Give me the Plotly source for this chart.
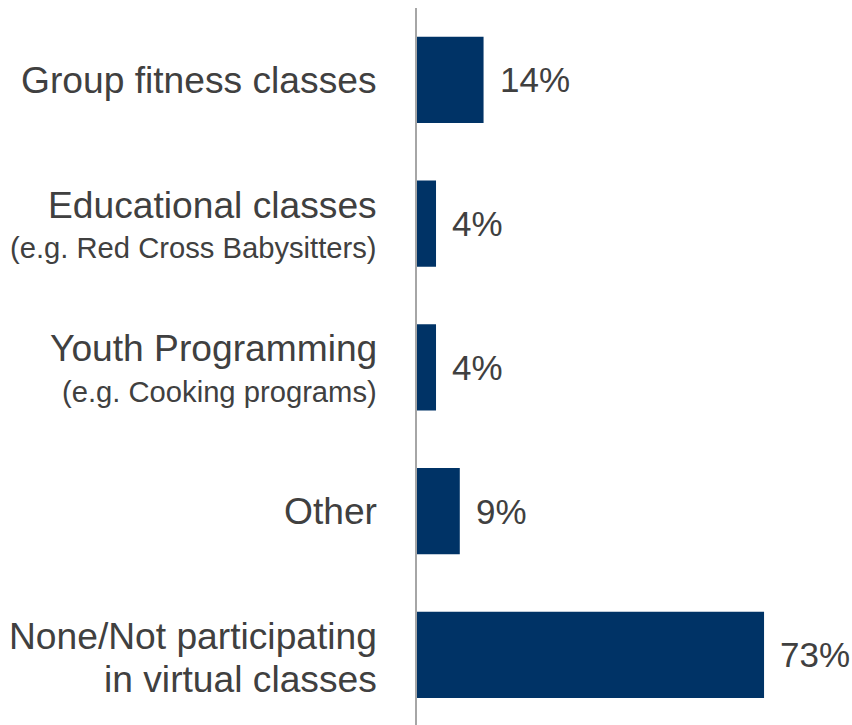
import plotly.graph_objects as go

# Survey: participation in virtual classes (share of respondents, %)
categories = [
    "Group fitness classes",
    "Educational classes",
    "Youth Programming",
    "Other",
    "None/Not participating<br>in virtual classes",
]
notes = [
    "",
    "(e.g. Red Cross Babysitters)",
    "(e.g. Cooking programs)",
    "",
    "",
]
values = [14, 4, 4, 9, 73]
value_labels = [f"{v}%" for v in values]

BAR_COLOR = "#003366"
TEXT_COLOR = "#404040"
FONT = "Liberation Sans, Arial, sans-serif"
BIG = 37.2
SMALL = 29.2

fig = go.Figure(
    go.Bar(
        x=values,
        y=categories,
        orientation="h",
        width=0.6,
        marker=dict(color=BAR_COLOR, line=dict(width=0)),
        hoverinfo="skip",
    )
)

annotations = []
# value labels just right of each bar end
for cat, v, lab in zip(categories, values, value_labels):
    annotations.append(dict(
        x=v, y=cat, xref="x", yref="y", text=lab, showarrow=False,
        xanchor="left", yanchor="middle", xshift=14,
        font=dict(family=FONT, size=35, color=TEXT_COLOR),
    ))

# category labels, right-aligned to the left of the axis line
for cat, note in zip(categories, notes):
    lines = [(t, BIG) for t in cat.split("<br>")]
    if note:
        lines.append((note, SMALL))
    if len(lines) == 1:
        shifts = [0]
    else:
        shifts = [19, -24.5]
    for (txt, size), sh in zip(lines, shifts):
        annotations.append(dict(
            x=0, y=cat, xref="paper", yref="y", text=txt, showarrow=False,
            xanchor="right", yanchor="middle", xshift=-38, yshift=sh,
            font=dict(family=FONT, size=size, color=TEXT_COLOR),
        ))

n = len(categories)
fig.update_layout(
    width=852, height=725,
    margin=dict(l=417, r=0, t=8, b=0, pad=0),
    paper_bgcolor="white", plot_bgcolor="white",
    showlegend=False,
    bargap=0.4,
    annotations=annotations,
    xaxis=dict(
        range=[0, 91.5], visible=False, showgrid=False, zeroline=False,
        fixedrange=True,
    ),
    yaxis=dict(
        type="category", categoryorder="array", categoryarray=categories,
        range=[n - 0.512, -0.5],
        showticklabels=False, ticks="", showgrid=False, zeroline=False,
        showline=True, linecolor="#A6A6A6", linewidth=2, fixedrange=True,
    ),
)

fig.write_html("out.html")
